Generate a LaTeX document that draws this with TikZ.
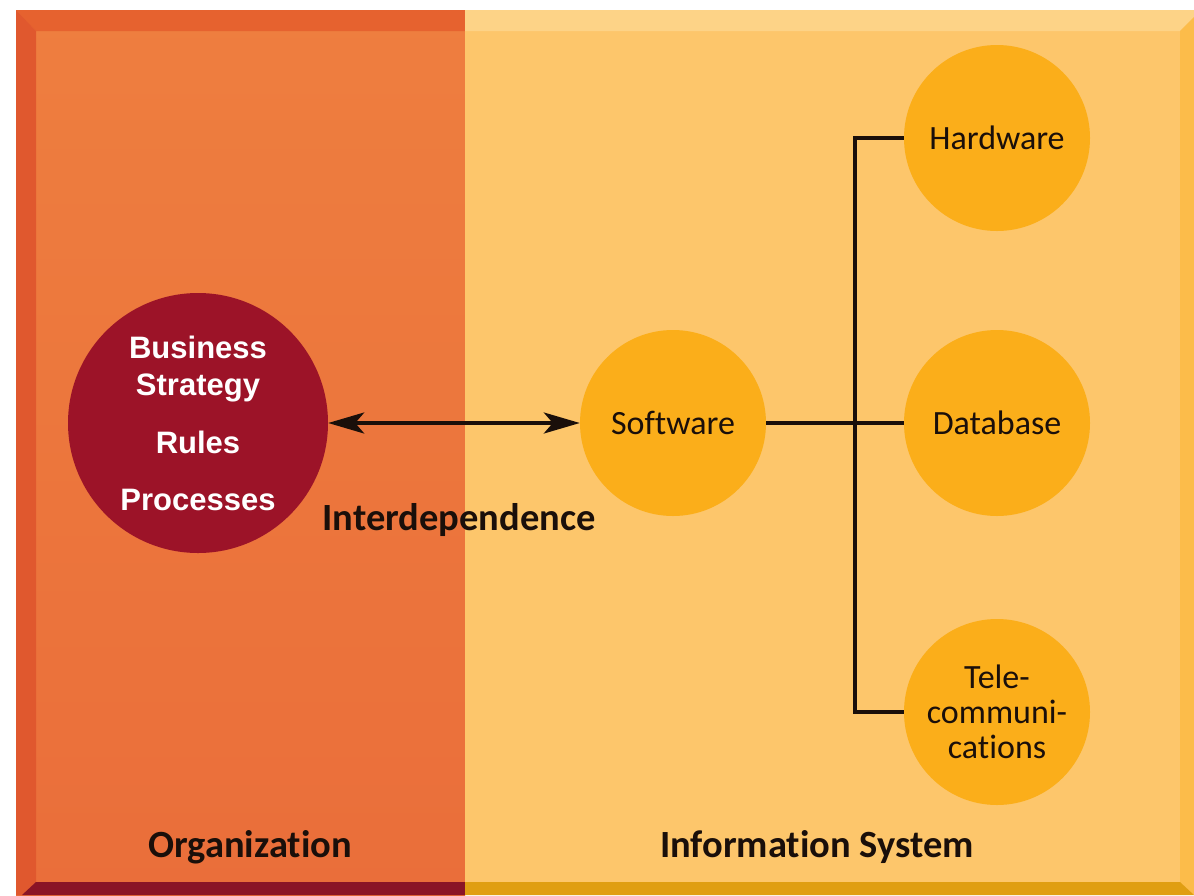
\documentclass[tikz,border=0pt]{standalone}
\usepackage{fontspec}
\setmainfont{Carlito}[Ligatures={NoCommon}]
\newfontfamily\arialfont{Liberation Sans}
\usetikzlibrary{arrows.meta}
\definecolor{orgfill}{HTML}{EE7E3F}
\definecolor{orgfillb}{HTML}{EA6E3A}
\definecolor{orgtop}{HTML}{E6622F}
\definecolor{orgleft}{HTML}{E0582E}
\definecolor{orgbot}{HTML}{8A1426}
\definecolor{isfill}{HTML}{FDC66B}
\definecolor{istop}{HTML}{FDD387}
\definecolor{isright}{HTML}{FCBC4A}
\definecolor{isbot}{HTML}{E09E12}
\definecolor{bizred}{HTML}{9C1328}
\definecolor{compfill}{HTML}{FBAE1A}
\definecolor{ink}{HTML}{1A0F0A}
\tikzset{
  comp/.style={circle, fill=compfill, minimum size=186pt, inner sep=0pt, align=center,
    text=ink, font=\fontsize{34}{35}\selectfont},
  biz/.style={circle, fill=bizred, minimum size=260pt, inner sep=0pt, align=center,
    text=white, font=\arialfont\bfseries\fontsize{31}{37}\selectfont},
  conn/.style={draw=ink, line width=3.5pt},
  arr/.style={draw=ink, line width=3.5pt, {Stealth[length=36pt,width=21pt,inset=9pt]}-{Stealth[length=36pt,width=21pt,inset=9pt]}},
  heading/.style={text=ink, font=\bfseries\fontsize{38.5}{40}\selectfont, anchor=base, inner sep=0pt}
}
\begin{document}
\begin{tikzpicture}[x=1pt,y=-1pt]
\useasboundingbox (0,0) rectangle (1194,895);
\fill[white] (0,0) rectangle (1194,895);
% left panel
\shade[top color=orgfill, bottom color=orgfillb] (16,10) rectangle (465,895);
\fill[orgtop] (16,10) -- (465,10) -- (465,31) -- (36,31) -- cycle;
\fill[orgleft] (16,10) -- (36,31) -- (36,882) -- (22,895) -- (16,895) -- cycle;
\fill[orgbot] (36,882) -- (465,882) -- (465,895) -- (22,895) -- cycle;
% right panel
\fill[isfill] (465,10) rectangle (1194,895);
\fill[istop] (465,10) -- (1194,10) -- (1194,17) -- (1180,31) -- (465,31) -- cycle;
\fill[isright] (1194,17) -- (1194,895) -- (1180,882) -- (1180,31) -- cycle;
\fill[isbot] (465,882) -- (1180,882) -- (1194,895) -- (465,895) -- cycle;

% circles
\node[biz] (bz) at (198,423) {Business\\Strategy\\[21pt]Rules\\[20pt]Processes};
\node[comp] (sw) at (673,423) {Software};
\node[comp] (hw) at (997,138) {Hardware};
\node[comp] (db) at (997,423) {Database};
\node[comp] (tc) at (997,712) {Tele-\\communi-\\cations};

\coordinate (jt) at (855,138);
\coordinate (jb) at (855,712);
\draw[conn] (hw.west) -- (jt) -- (jb) -- (tc.west);
\draw[conn] (sw.east) -- (db.west);
\draw[arr] (bz.east) -- (sw.west);

\node[heading] (inter) at (459,530) {Interdependence};
\node[heading] (org) at (250,857) {Organization};
\node[heading] (infs) at (817,857) {Information System};
\end{tikzpicture}
\end{document}
